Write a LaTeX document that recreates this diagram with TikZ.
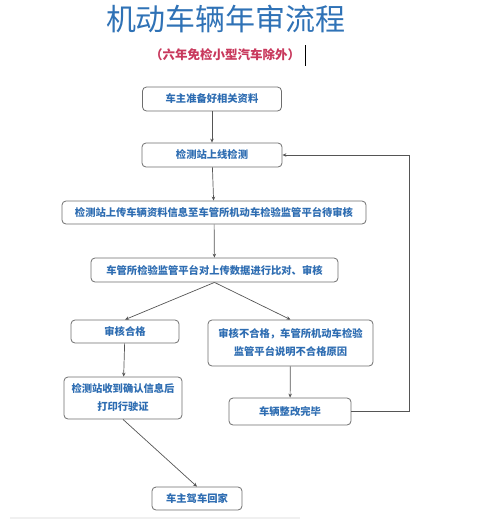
\documentclass[tikz,border=0pt]{standalone}
\usepackage{fontspec}
\usepackage{tikz}
\usetikzlibrary{arrows.meta, positioning}
\setmainfont{Noto Sans CJK SC}
\definecolor{TitleBlue}{HTML}{2F72B6}
\definecolor{BoxText}{HTML}{2E6DB2}
\definecolor{NoteRed}{HTML}{C8385C}
\definecolor{EdgeGray}{HTML}{6E6E6E}
\definecolor{FlowGray}{HTML}{555555}

\tikzset{
  stepbox/.style={draw=EdgeGray, fill=white, rounded corners=4pt, line width=0.8pt,
    text=BoxText, font=\bfseries\fontsize{10.3}{18}\selectfont,
    inner sep=0pt, align=center},
  flow/.style={draw=FlowGray, line width=0.7pt, -{Stealth[length=4pt,width=3.5pt]}}
}

\begin{document}
\begin{tikzpicture}[x=1pt, y=-1pt]
\useasboundingbox (0,0) rectangle (499,523);

% title
\node[text=TitleBlue, font=\fontsize{30}{32}\selectfont] (title) at (226,19) {机动车辆年审流程};
\node[text=NoteRed, font=\bfseries\fontsize{12.5}{14}\selectfont] (note) at (225,55) {（六年免检小型汽车除外）};
\draw[line width=0.6pt] (305,45) -- (305,66);

% boxes
\node[stepbox, minimum width=139pt, minimum height=24pt] (owner) at (212,99) {车主准备好相关资料};
\node[stepbox, minimum width=140pt, minimum height=24pt] (test) at (212,155) {检测站上线检测};
\node[stepbox, minimum width=304pt, minimum height=23pt] (upload) at (214,212.5) {检测站上传车辆资料信息至车管所机动车检验监管平台待审核};
\node[stepbox, minimum width=247pt, minimum height=24pt] (check) at (214.5,270) {车管所检验监管平台对上传数据进行比对、审核};
\node[stepbox, minimum width=108pt, minimum height=23pt] (pass) at (125,331.5) {审核合格};
\node[stepbox, minimum width=165pt, minimum height=46pt] (fail) at (290.5,343) {审核不合格，车管所机动车检验\\监管平台说明不合格原因};
\node[stepbox, minimum width=118pt, minimum height=42pt] (print) at (123,398) {检测站收到确认信息后\\打印行驶证};
\node[stepbox, minimum width=122pt, minimum height=27pt] (fix) at (290,411.5) {车辆整改完毕};
\node[stepbox, minimum width=90pt, minimum height=23pt] (home) at (197,498.5) {车主驾车回家};

% connectors
\coordinate (loop) at (409,0);
\draw[flow] (owner) -- (test);
\draw[flow] (test) -- (upload);
\draw[flow] (upload) -- (check);
\draw[flow] (check.south) -- (pass.north);
\draw[flow] (check.south) -- (fail.north);
\draw[flow] (pass) -- (print);
\draw[flow] (fail) -- (fix);
\draw[flow] (print.south) -- (home.north);
\draw[flow] (fix.east) -| (loop |- test.east) -- (test.east);

% faint bottom edge
\draw[gray!12, line width=2pt] (10,518) -- (300,518);
\end{tikzpicture}
\end{document}
